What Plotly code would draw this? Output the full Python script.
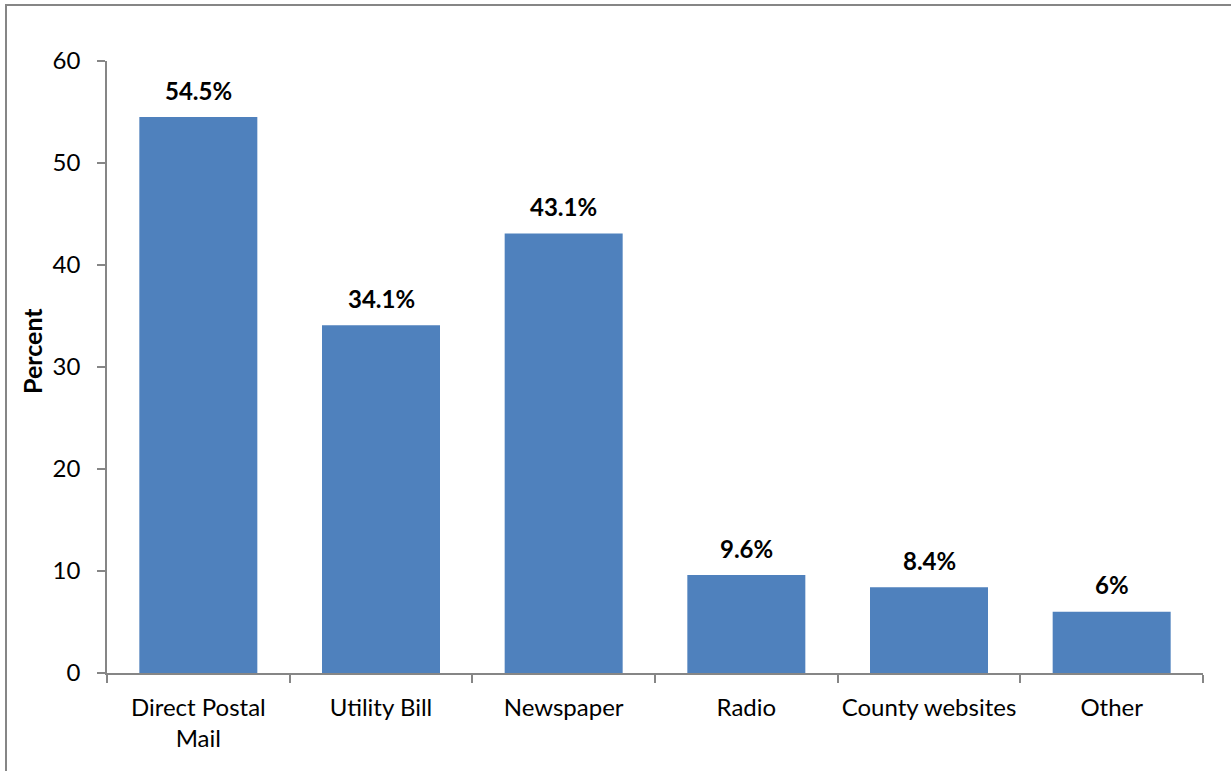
import plotly.graph_objects as go

# Survey responses: where people heard about the program
categories = ["Direct Postal<br>Mail", "Utility Bill", "Newspaper", "Radio", "County websites", "Other"]
percent_values = [54.5, 34.1, 43.1, 9.6, 8.4, 6.0]
value_labels = ["54.5%", "34.1%", "43.1%", "9.6%", "8.4%", "6%"]
y_tick_values = [0, 10, 20, 30, 40, 50, 60]

W, H = 1231, 771
L, R, T, B = 107, 28, 61, 98
plot_w = W - L - R
plot_h = H - T - B

FONT = "Lato, 'Open Sans', sans-serif"
AXIS_GRAY = "#868686"

fig = go.Figure(
    go.Bar(
        x=categories,
        y=percent_values,
        marker=dict(color="#4F81BD", line=dict(width=0)),
        width=0.646,
        hoverinfo="skip",
    )
)

# bold value labels above each bar
for cat, val, lab in zip(categories, percent_values, value_labels):
    fig.add_annotation(
        x=cat, y=val, text=f"<b>{lab}</b>", showarrow=False,
        xanchor="center", yanchor="middle", yshift=27,
        font=dict(family=FONT, size=24, color="#000000"),
    )

# y-axis title
fig.add_annotation(
    x=(32 - L) / plot_w, y=(H - B - 351) / plot_h, xref="paper", yref="paper",
    text="<b>Percent</b>", textangle=-90, showarrow=False,
    xanchor="center", yanchor="middle",
    font=dict(family=FONT, size=25, color="#000000"),
)

# chart frame (left and top edges)
def px_x(p):
    return (p - L) / plot_w

def px_y(p):
    return (H - B - p) / plot_h

fig.add_shape(type="line", xref="paper", yref="paper",
              x0=px_x(6), x1=px_x(6), y0=px_y(5), y1=px_y(H + 20),
              line=dict(color=AXIS_GRAY, width=2))
fig.add_shape(type="line", xref="paper", yref="paper",
              x0=px_x(5), x1=px_x(W + 20), y0=px_y(5), y1=px_y(5),
              line=dict(color=AXIS_GRAY, width=2))

fig.update_layout(
    width=W, height=H,
    margin=dict(l=L, r=R, t=T, b=B, pad=0, autoexpand=False),
    paper_bgcolor="white", plot_bgcolor="white",
    showlegend=False,
    bargap=0.354,
    font=dict(family=FONT, size=24, color="#000000"),
)

fig.update_xaxes(
    type="category",
    showline=True, linecolor=AXIS_GRAY, linewidth=1.5,
    ticks="outside", tickson="boundaries", ticklen=8, tickcolor=AXIS_GRAY, tickwidth=1.5,
    tickangle=0, automargin=False,
    ticklabelstandoff=12,
    showgrid=False, zeroline=False,
    tickfont=dict(family=FONT, size=24, color="#000000"),
)
fig.update_yaxes(
    range=[0, 60], tickvals=y_tick_values,
    showline=True, linecolor=AXIS_GRAY, linewidth=1.5,
    ticks="outside", ticklen=8, tickcolor=AXIS_GRAY, tickwidth=1.5,
    automargin=False,
    ticklabelstandoff=12,
    showgrid=False, zeroline=False,
    tickfont=dict(family=FONT, size=24, color="#000000"),
)

fig.write_html("out.html", config={"displayModeBar": False})
